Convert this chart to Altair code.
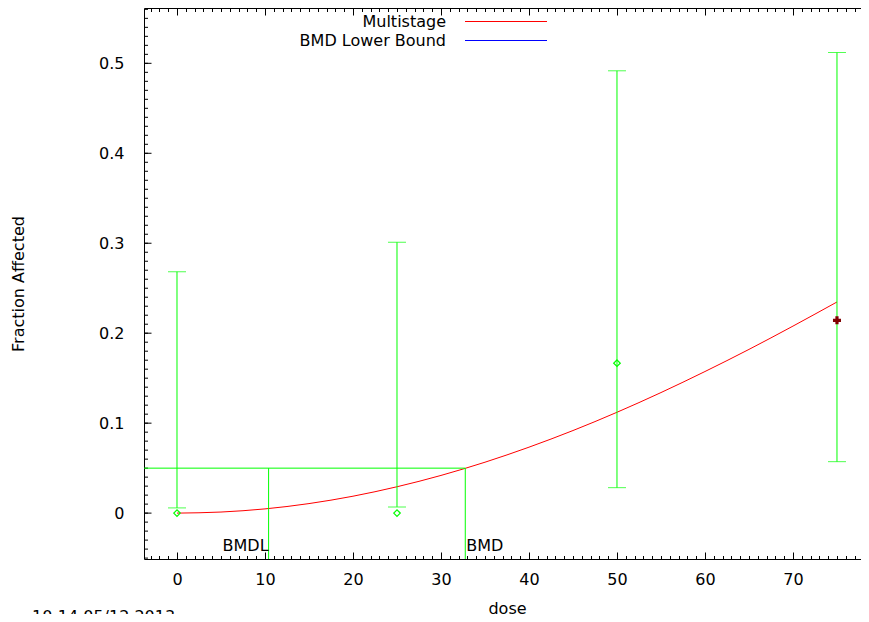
import altair as alt
import pandas as pd

# ---------------- data ----------------
dose = [0, 25, 50, 75]
frac_affected = [0.0, 0.0, 0.1667, 0.2143]
ci_lower = [0.0058, 0.0069, 0.0283, 0.0572]
ci_upper = [0.2683, 0.3011, 0.4917, 0.5120]
point_kind = ["obs", "obs", "obs", "last"]

curve_dose = [0, 5, 10, 15, 20, 25, 30, 35, 40, 45, 50, 55, 60, 65, 70, 75]
curve_frac = [0.0, 0.0012, 0.0047, 0.0106, 0.0188, 0.0293, 0.0419, 0.0566,
              0.0733, 0.0918, 0.1121, 0.1340, 0.1574, 0.1820, 0.2079, 0.2347]

bmr = 0.05
bmd = 32.76
bmdl = 10.41

# the plot frame is cut by the right edge of the page (scale: 8.8 px per dose unit)
x_domain = [-3.75, 77.73]
y_domain = [-0.051, 0.5615]
x_major = [0, 10, 20, 30, 40, 50, 60, 70]
x_minor = list(range(-3, 78))
y_major = [0, 0.1, 0.2, 0.3, 0.4, 0.5]
y_minor = [round(i * 0.01, 2) for i in range(-5, 57)]

legend_labels = ["Multistage", "BMD Lower Bound"]
legend_colors = ["#ff0000", "#0000ff"]
bmd_labels = ["BMDL", "BMD"]
timestamp = "10:14 05/12 2013"

# ---------------- layout ----------------
W, H = 717, 551
FONT = "DejaVu Sans"
FS = 16
GREEN = "#00ff00"

xs = alt.Scale(domain=x_domain, nice=False, zero=False)
ys = alt.Scale(domain=y_domain, nice=False, zero=False)

obs = pd.DataFrame({"dose": dose, "frac": frac_affected, "lo": ci_lower,
                    "hi": ci_upper, "kind": point_kind})
curve = pd.DataFrame({"dose": curve_dose, "frac": curve_frac})


def inner_x_axis(orient, values, size, domain=False):
    return alt.Axis(orient=orient, offset=-H, values=values, labels=False,
                    ticks=True, tickSize=size, tickColor="black", tickWidth=1,
                    domain=domain, domainColor="black", domainWidth=1,
                    grid=False, title="")


main_x = alt.Axis(orient="bottom", values=x_major, ticks=False, domain=True,
                  domainColor="black", grid=False, labelPadding=12,
                  title="dose", titleX=363, titleY=54, titleAlign="center",
                  titleBaseline="alphabetic")
main_y = alt.Axis(orient="left", values=y_major, ticks=False, domain=True,
                  domainColor="black", grid=False, labelPadding=20,
                  format=".1~f", title="Fraction Affected", titleAngle=270,
                  titleX=-121, titleY=H / 2, titleAlign="center",
                  titleBaseline="alphabetic")

layers = []

# fitted curve (main axes)
layers.append(alt.Chart(curve).mark_line(color="#ff0000", strokeWidth=1,
                                         interpolate="monotone").encode(
    x=alt.X("dose:Q", scale=xs, axis=main_x),
    y=alt.Y("frac:Q", scale=ys, axis=main_y)))

# error bars (their x axes carry the inward ticks of the top and bottom frame)
layers.append(alt.Chart(obs).mark_rule(color=GREEN, strokeWidth=1).encode(
    x=alt.X("dose:Q", scale=xs, axis=inner_x_axis("top", x_major, 7)),
    y=alt.Y("lo:Q", scale=ys, axis=None), y2="hi:Q"))
layers.append(alt.Chart(obs).mark_tick(orient="horizontal", size=18,
                                       thickness=1, color=GREEN).encode(
    x=alt.X("dose:Q", scale=xs, axis=inner_x_axis("top", x_minor, 3.5)),
    y=alt.Y("hi:Q", scale=ys, axis=None)))
layers.append(alt.Chart(obs).mark_tick(orient="horizontal", size=18,
                                       thickness=1, color=GREEN).encode(
    x=alt.X("dose:Q", scale=xs, axis=inner_x_axis("bottom", x_major, 7, True)),
    y=alt.Y("lo:Q", scale=ys, axis=None)))

# inward ticks of the left frame, placed by the y scale
for vals, size in ((y_major, 7), (y_minor, 3.5)):
    td = pd.DataFrame({"v": vals})
    layers.append(alt.Chart(td).mark_rule(color="black", strokeWidth=1).encode(
        y=alt.Y("v:Q", scale=ys, axis=None),
        x=alt.value(0.5), x2=alt.value(0.5 + size)))

# observed points
layers.append(alt.Chart(obs).transform_filter(alt.datum.kind == "obs").mark_point(
    shape="diamond", size=42, filled=False, color=GREEN, strokeWidth=1.3,
    opacity=1).encode(
    x=alt.X("dose:Q", scale=xs, axis=inner_x_axis("bottom", x_minor, 3.5)),
    y=alt.Y("frac:Q", scale=ys, axis=None)))
layers.append(alt.Chart(obs).transform_filter(alt.datum.kind == "last").mark_point(
    shape="cross", size=64, filled=True, color="#800000", opacity=1).encode(
    x=alt.X("dose:Q", scale=xs, axis=None),
    y=alt.Y("frac:Q", scale=ys, axis=None)))

# BMD construction lines
hline = pd.DataFrame({"x": [x_domain[0]], "x2": [bmd], "y": [bmr]})
layers.append(alt.Chart(hline).mark_rule(color=GREEN, strokeWidth=1).encode(
    x=alt.X("x:Q", scale=xs, axis=None), x2="x2:Q",
    y=alt.Y("y:Q", scale=ys, axis=None)))
vlines = pd.DataFrame({"x": [bmdl, bmd], "y": [bmr, bmr],
                       "y2": [y_domain[0], y_domain[0]], "label": bmd_labels})
layers.append(alt.Chart(vlines).mark_rule(color=GREEN, strokeWidth=1).encode(
    x=alt.X("x:Q", scale=xs, axis=None),
    y=alt.Y("y:Q", scale=ys, axis=None), y2="y2:Q"))
layers.append(alt.Chart(vlines).transform_filter(alt.datum.label == "BMDL").mark_text(
    align="right", baseline="alphabetic", dx=0, font=FONT, fontSize=FS,
    color="black").encode(
    x=alt.X("x:Q", scale=xs, axis=None), y=alt.value(H - 8), text="label:N"))
layers.append(alt.Chart(vlines).transform_filter(alt.datum.label == "BMD").mark_text(
    align="left", baseline="alphabetic", dx=1, font=FONT, fontSize=FS,
    color="black").encode(
    x=alt.X("x:Q", scale=xs, axis=None), y=alt.value(H - 8), text="label:N"))

# key (gnuplot style: text then sample line)
for i, (lab, col) in enumerate(zip(legend_labels, legend_colors)):
    ld = pd.DataFrame({"label": [lab]})
    layers.append(alt.Chart(ld).mark_text(
        align="right", baseline="alphabetic", font=FONT, fontSize=FS,
        color="black").encode(
        x=alt.value(302), y=alt.value(18.7 + 19 * i), text="label:N"))
    layers.append(alt.Chart(ld).mark_rule(color=col, strokeWidth=1).encode(
        x=alt.value(321), x2=alt.value(403), y=alt.value(13.5 + 19 * i)))

# timestamp (cut off at the page bottom, as in the reference)
layers.append(alt.Chart(pd.DataFrame({"t": [timestamp]})).mark_text(
    align="left", baseline="alphabetic", font=FONT, fontSize=FS,
    color="black").encode(x=alt.value(-112), y=alt.value(614), text="t:N"))

chart = alt.layer(*layers).resolve_axis(
    x="independent", y="independent"
).properties(
    width=W, height=H,
    autosize=alt.AutoSizeParams(type="none"),
    padding={"left": 136, "top": 0, "right": 0, "bottom": 55},
).configure_view(
    stroke="transparent"
).configure_axis(
    labelFont=FONT, titleFont=FONT, labelFontSize=FS, titleFontSize=FS,
    labelColor="black", titleColor="black", titleFontWeight="normal",
)

chart.save("out.html", embed_options={"renderer": "svg", "actions": False})
